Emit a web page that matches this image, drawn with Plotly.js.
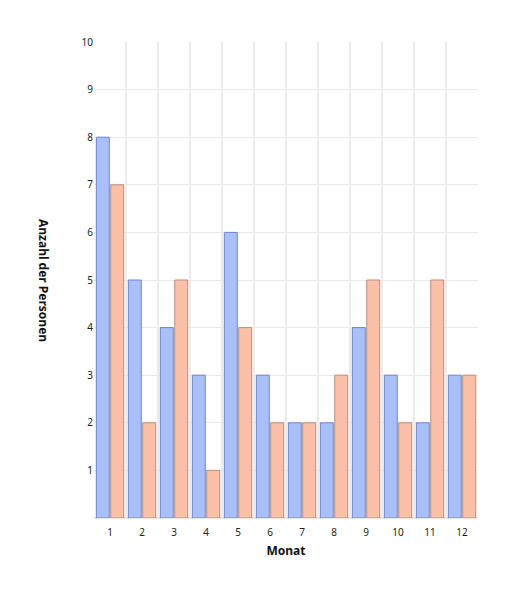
<!DOCTYPE html>
<html>
<head>
<meta charset="utf-8">
<script src="https://cdn.plot.ly/plotly-3.0.1.min.js"></script>
<style>html,body{margin:0;padding:0;background:#fff;}#chart{width:518px;height:594px;}</style>
</head>
<body>
<div id="chart"></div>
<script>
const months = [1,2,3,4,5,6,7,8,9,10,11,12];
const monthLabels = ['1','2','3','4','5','6','7','8','9','10','11','12'];
const seriesA = [8,5,4,3,6,3,2,2,4,3,2,3];
const seriesB = [7,2,5,1,4,2,2,3,5,2,5,3];
const yTicks = [1,2,3,4,5,6,7,8,9,10];
const boundaries = [0.5,1.5,2.5,3.5,4.5,5.5,6.5,7.5,8.5,9.5,10.5,11.5,12.5];

const traces = [
  {type:'bar', x:months, y:seriesA, name:'A',
   marker:{color:'#aac0fc', line:{color:'#6f82c8', width:1}}},
  {type:'bar', x:months, y:seriesB, name:'B',
   marker:{color:'#fcc0a8', line:{color:'#c08a7a', width:1}}},
  {type:'scatter', x:[1], y:[0], xaxis:'x2', mode:'markers',
   marker:{opacity:0}, showlegend:false, hoverinfo:'skip'}
];

const tickFont = {family:'Noto Sans, DejaVu Sans, sans-serif', size:10, color:'#222'};

const layout = {
  width:518, height:594,
  margin:{l:94, r:40, t:42, b:76},
  paper_bgcolor:'#fff', plot_bgcolor:'#fff',
  showlegend:false,
  barmode:'group', bargap:0.1, bargroupgap:0.1,
  xaxis:{range:[0.5,12.5], tickvals:months, ticktext:monthLabels,
         showgrid:false, zeroline:false, ticks:'', tickfont:tickFont, ticklabelstandoff:7,
         title:{text:'Monat', font:{family:'Noto Sans, DejaVu Sans, sans-serif', size:12, color:'#111', weight:'bold'}, standoff:8}},
  xaxis2:{range:[0.5,12.5], overlaying:'x', tickvals:boundaries,
          showgrid:true, gridcolor:'#ececec', gridwidth:2, showticklabels:false,
          zeroline:false, ticks:'', layer:'below traces'},
  yaxis:{range:[0,10], tickvals:yTicks, showgrid:true, gridcolor:'#e9e9e9', gridwidth:1,
         zeroline:true, zerolinecolor:'#e6e6e6', zerolinewidth:2, ticks:'', tickfont:tickFont},
  annotations:[{text:'<b>Anzahl der Personen</b>', textangle:90, xref:'paper', yref:'paper',
                x:-0.13, y:0.5, showarrow:false, xanchor:'center', yanchor:'middle',
                font:{family:'Noto Sans, DejaVu Sans, sans-serif', size:12, color:'#111'}}]
};

Plotly.newPlot('chart', traces, layout, {displayModeBar:false, staticPlot:true});
</script>
</body>
</html>
